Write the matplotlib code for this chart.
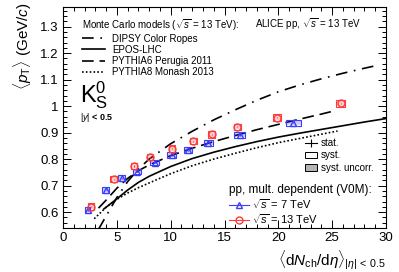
import matplotlib
matplotlib.use("Agg")
import matplotlib.pyplot as plt
from matplotlib.lines import Line2D
from matplotlib.patches import Patch

plt.rcParams['font.family'] = ['Liberation Sans', 'DejaVu Sans']
plt.rcParams['mathtext.fontset'] = 'custom'
plt.rcParams['mathtext.rm'] = 'Liberation Sans'
plt.rcParams['mathtext.it'] = 'Liberation Sans:italic'
plt.rcParams['mathtext.bf'] = 'Liberation Sans:bold'

# Monte Carlo model curves (pp 13 TeV)
dipsy_x = [3.3, 4, 5, 6, 7, 8, 10, 12, 14, 16, 18, 20, 22, 24, 26, 28, 29]
dipsy_y = [0.535, 0.585, 0.655, 0.715, 0.762, 0.800, 0.858, 0.905, 0.948, 0.986, 1.022,
           1.054, 1.080, 1.103, 1.124, 1.143, 1.152]
epos_x = [3.8, 5, 6, 7, 8, 10, 12, 14, 16, 18, 20, 22, 24, 26, 28, 30]
epos_y = [0.612, 0.650, 0.683, 0.712, 0.735, 0.772, 0.802, 0.826, 0.847, 0.866, 0.883,
          0.898, 0.912, 0.926, 0.940, 0.953]
py6_x = [3.3, 4, 5, 6, 7, 8, 10, 12, 14, 16, 18, 20, 22, 24, 25]
py6_y = [0.615, 0.645, 0.690, 0.727, 0.756, 0.778, 0.813, 0.841, 0.866, 0.889, 0.911,
         0.931, 0.951, 0.970, 0.980]
py8_x = [2.9, 4, 5, 6, 7, 8, 10, 12, 14, 16, 18, 20, 22, 24, 25.5]
py8_y = [0.575, 0.618, 0.648, 0.672, 0.692, 0.710, 0.745, 0.775, 0.800, 0.822, 0.843,
         0.862, 0.878, 0.894, 0.906]

# ALICE data, V0M multiplicity classes
pp7_x = [2.3, 3.95, 5.45, 6.85, 8.5, 10.1, 11.6, 13.5, 16.4, 21.4]
pp7_y = [0.607, 0.684, 0.728, 0.753, 0.787, 0.815, 0.834, 0.861, 0.891, 0.937]
pp7_stat = [0.003, 0.002, 0.002, 0.002, 0.002, 0.002, 0.002, 0.002, 0.002, 0.002]
pp7_sx = [0.25, 0.3, 0.3, 0.35, 0.4, 0.4, 0.4, 0.45, 0.55, 0.7]
pp7_sy = [0.011, 0.011, 0.011, 0.011, 0.011, 0.011, 0.011, 0.011, 0.011, 0.011]
pp7_uy = [0.007, 0.007, 0.007, 0.007, 0.007, 0.007, 0.007, 0.007, 0.007, 0.007]

pp13_x = [2.6, 4.7, 6.6, 8.1, 10.1, 12.1, 13.8, 16.2, 19.9, 25.8]
pp13_y = [0.621, 0.724, 0.774, 0.807, 0.840, 0.868, 0.893, 0.922, 0.957, 1.010]
pp13_stat = [0.002, 0.002, 0.002, 0.002, 0.002, 0.002, 0.002, 0.002, 0.002, 0.002]
pp13_sx = [0.3, 0.3, 0.3, 0.3, 0.3, 0.3, 0.3, 0.35, 0.35, 0.4]
pp13_sy = [0.012, 0.012, 0.012, 0.012, 0.012, 0.012, 0.012, 0.012, 0.012, 0.012]
pp13_uy = [0.008, 0.008, 0.008, 0.008, 0.008, 0.008, 0.008, 0.008, 0.008, 0.008]

y_ticks = [0.6, 0.7, 0.8, 0.9, 1.0, 1.1, 1.2, 1.3]
y_labels = ['0.6', '0.7', '0.8', '0.9', '1', '1.1', '1.2', '1.3']
x_ticks = [0, 5, 10, 15, 20, 25, 30]

blue = '#3c3cff'
red = '#ff3a3a'

fig = plt.figure(figsize=(3.99, 2.72), dpi=100)
ax = fig.add_axes([63 / 399, 44 / 272, 323 / 399, 221 / 272])

# models
ax.plot(dipsy_x, dipsy_y, color='k', lw=1.2, dashes=(7, 4, 1, 4))
ax.plot(epos_x, epos_y, color='k', lw=1.2)
ax.plot(py6_x, py6_y, color='k', lw=1.2, dashes=(7, 3.5))
ax.plot(py8_x, py8_y, color='k', lw=1.2, dashes=(1, 1.3))


def draw_data(x, y, stat, sx, sy, uy, col, marker):
    low = [a - b for a, b in zip(y, uy)]
    ax.bar(x, [2 * b for b in uy], bottom=low, width=[2 * b for b in sx],
           color=col, alpha=0.25, linewidth=0, zorder=3)
    low = [a - b for a, b in zip(y, sy)]
    ax.bar(x, [2 * b for b in sy], bottom=low, width=[2 * b for b in sx],
           fill=False, edgecolor=col, linewidth=0.8, zorder=4)
    ax.errorbar(x, y, yerr=stat, fmt=marker, color=col, mfc='none', mec=col,
                ms=5, mew=1.0, elinewidth=0.8, capsize=0, zorder=5)


draw_data(pp7_x, pp7_y, pp7_stat, pp7_sx, pp7_sy, pp7_uy, blue, '^')
draw_data(pp13_x, pp13_y, pp13_stat, pp13_sx, pp13_sy, pp13_uy, red, 'o')

ax.set_xlim(0, 30)
ax.set_ylim(0.541, 1.374)
ax.set_xticks(x_ticks)
ax.set_xticks(range(0, 31), minor=True)
ax.set_yticks(y_ticks)
ax.set_yticklabels(y_labels)
ax.set_yticks([0.54 + 0.02 * i for i in range(42)], minor=True)
ax.tick_params(which='both', direction='in', top=True, right=True, labelsize=9.5,
               width=0.7, pad=3)
ax.tick_params(which='major', length=6)
ax.tick_params(which='minor', length=3)
for s in ax.spines.values():
    s.set_linewidth(0.8)

ax.set_ylabel(r'$\langle p_{\mathrm{T}}\rangle$ (GeV/$c$)', fontsize=11, loc='top')
ax.yaxis.set_label_coords(-0.09, 1.02)
ax.set_xlabel(r'$\langle \mathrm{d}N_{\mathrm{ch}}/\mathrm{d}\eta\rangle_{|\eta|\,<\,0.5}$',
              fontsize=11, loc='right')
ax.xaxis.set_label_coords(1.0, -0.095)

# model legend
model_handles = [
    Line2D([], [], color='k', lw=1.2, dashes=(7, 4, 1, 4)),
    Line2D([], [], color='k', lw=1.2),
    Line2D([], [], color='k', lw=1.2, dashes=(7, 3.5)),
    Line2D([], [], color='k', lw=1.2, dashes=(1, 1.3)),
]
model_labels = ['DIPSY Color Ropes', 'EPOS-LHC', 'PYTHIA6 Perugia 2011', 'PYTHIA8 Monash 2013']
leg1 = ax.legend(model_handles, model_labels, loc='upper left',
                 bbox_to_anchor=(0.059, 0.955), frameon=False, fontsize=7,
                 title=r'Monte Carlo models ($\sqrt{s}$ = 13 TeV):', title_fontsize=7,
                 alignment='left', handlelength=2.4, handletextpad=0.7,
                 labelspacing=0.12, borderpad=0, borderaxespad=0)
ax.add_artist(leg1)

# uncertainty legend
unc_handles = [
    Line2D([], [], color='k', lw=0.8, marker='|', ms=6, mew=0.8),
    Patch(facecolor='white', edgecolor='k', linewidth=0.7),
    Patch(facecolor='#b4b4b4', edgecolor='k', linewidth=0.7),
]
leg2 = ax.legend(unc_handles, ['stat.', 'syst.', 'syst. uncorr.'], loc='upper left',
                 bbox_to_anchor=((305 - 63) / 323, (228 - 138) / 221), frameon=False,
                 fontsize=7, handlelength=1.2, handletextpad=0.4, labelspacing=0.25,
                 borderpad=0, borderaxespad=0)
ax.add_artist(leg2)

# data legend
data_handles = [
    Line2D([], [], color=blue, lw=0.8, marker='^', mfc='none', ms=5),
    Line2D([], [], color=red, lw=0.8, marker='o', mfc='none', ms=5),
]
leg3 = ax.legend(data_handles, [r'$\sqrt{s}$ = 7 TeV', r'$\sqrt{s}$ = 13 TeV'],
                 loc='upper left', bbox_to_anchor=((229 - 63) / 323, (228 - 184) / 221),
                 frameon=False, fontsize=8, title='pp, mult. dependent (V0M):',
                 title_fontsize=8.5, alignment='left', handlelength=1.8,
                 handletextpad=0.3, labelspacing=0.1, borderpad=0, borderaxespad=0)

ax.text((255 - 63) / 323, (228 - 24) / 221, r'ALICE pp, $\sqrt{s}$ = 13 TeV',
        transform=ax.transAxes, fontsize=7, va='center', ha='left')
ax.text((80 - 63) / 323, (228 - 102) / 221, r'$\mathrm{K}^{0}_{\mathrm{S}}$',
        transform=ax.transAxes, fontsize=17, va='baseline', ha='left')
ax.text((80 - 63) / 323, (228 - 118) / 221, r'$|y|$ < 0.5', transform=ax.transAxes,
        fontsize=6.5, fontweight='bold', va='center', ha='left')

fig.savefig('out.png', dpi=100)
